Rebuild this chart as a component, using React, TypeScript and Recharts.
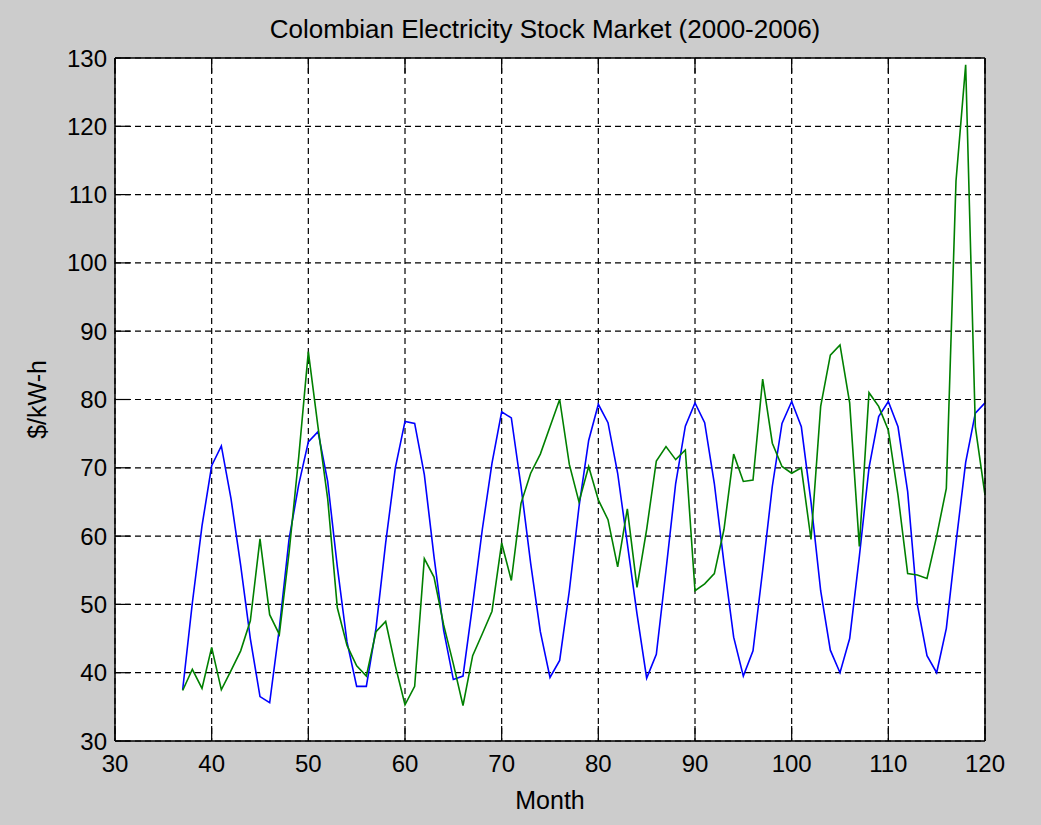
import { CartesianGrid, Line, LineChart, XAxis, YAxis } from "recharts";

const months = [
  37, 38, 39, 40, 41, 42, 43, 44, 45, 46,
  47, 48, 49, 50, 51, 52, 53, 54, 55, 56,
  57, 58, 59, 60, 61, 62, 63, 64, 65, 66,
  67, 68, 69, 70, 71, 72, 73, 74, 75, 76,
  77, 78, 79, 80, 81, 82, 83, 84, 85, 86,
  87, 88, 89, 90, 91, 92, 93, 94, 95, 96,
  97, 98, 99, 100, 101, 102, 103, 104, 105, 106,
  107, 108, 109, 110, 111, 112, 113, 114, 115, 116,
  117, 118, 119, 120,
];

// fitted curve (blue)
const fitted = [
  37.5, 50.2, 61.5, 70.3, 73.2, 65.5, 55.7, 45, 36.5, 35.6,
  46.5, 59.5, 67.5, 73.8, 75.3, 68, 55.5, 44.5, 38, 38,
  46.5, 59, 70, 76.8, 76.5, 69, 57, 46.2, 39, 39.5,
  50, 61, 70.7, 78.2, 77.3, 67.3, 56, 46, 39.3, 41.8,
  52, 64.3, 74, 79.3, 76.6, 69.2, 58.9, 48.6, 39.2, 42.7,
  55, 67.7, 76.1, 79.5, 76.6, 67.7, 56, 45.2, 39.5, 43.2,
  55, 67.3, 76.5, 79.7, 76, 65, 52, 43.3, 40, 45,
  57, 70, 77.5, 79.7, 76, 66.5, 50, 42.5, 40, 46.5,
  59, 70.8, 78, 79.5,
];

// observed price (green)
const observed = [
  37.4, 40.5, 37.7, 43.7, 37.5, 40.3, 43.2, 47.6, 59.6, 48.5,
  45.6, 57.5, 71.5, 87, 76, 65.5, 49.5, 44, 41, 39.5,
  46, 47.5, 41, 35.3, 38, 56.7, 54, 47, 41.3, 35.2,
  42.5, 45.7, 49, 59, 53.5, 64.8, 69.2, 72, 76, 80,
  70.5, 65, 70.2, 65.3, 62.4, 55.5, 64, 52.5, 61, 71,
  73.1, 71.2, 72.6, 52, 53, 54.5, 61, 72, 68, 68.2,
  83, 73.6, 70.2, 69.2, 70, 59.5, 79, 86.5, 88, 79.5,
  58.5, 81, 79, 75.5, 66, 54.5, 54.3, 53.8, 60, 67,
  112, 129, 76, 66,
];

const xTicks = [30, 40, 50, 60, 70, 80, 90, 100, 110, 120];
const yTicks = [30, 40, 50, 60, 70, 80, 90, 100, 110, 120, 130];

const data = months.map((m, i) => ({ month: m, fit: fitted[i], price: observed[i] }));

const FONT = "'Liberation Sans', Arial, sans-serif";
const TICK_LEN = 15;

const BottomTick = ({ x, y, payload }: any) => (
  <g>
    <line x1={x} x2={x} y1={y} y2={y - TICK_LEN} stroke="#000" strokeWidth={1.2} />
    <text x={x} y={y + 22} textAnchor="middle" dominantBaseline="central" fontSize={24} fontFamily={FONT} fill="#000">
      {payload.value}
    </text>
  </g>
);

const TopTick = ({ x, y }: any) => (
  <line x1={x} x2={x} y1={y} y2={y + TICK_LEN} stroke="#000" strokeWidth={1.2} />
);

const LeftTick = ({ x, y, payload }: any) => (
  <g>
    <line x1={x} x2={x + TICK_LEN} y1={y} y2={y} stroke="#000" strokeWidth={1.2} />
    <text x={x - 8} y={y} textAnchor="end" dominantBaseline="central" fontSize={24} fontFamily={FONT} fill="#000">
      {payload.value}
    </text>
  </g>
);

const RightTick = ({ x, y }: any) => (
  <line x1={x} x2={x - TICK_LEN} y1={y} y2={y} stroke="#000" strokeWidth={1.2} />
);

export default function App() {
  return (
    <div style={{ position: "absolute", left: 0, top: 0, width: 1041, height: 825, background: "#cccccc", fontFamily: FONT }}>
      <div style={{ position: "absolute", left: 115, top: 58, width: 870, height: 683, background: "#fff" }} />
      <div style={{ position: "absolute", left: 110, top: 14, width: 870, textAlign: "center", fontSize: 26, color: "#000" }}>
        Colombian Electricity Stock Market (2000-2006)
      </div>
      <div style={{ position: "absolute", left: 0, top: 0 }}>
        <LineChart width={1041} height={825} data={data} margin={{ top: 57, right: 55, bottom: 0, left: 0 }}>
          <CartesianGrid
            xAxisId="b"
            yAxisId="l"
            stroke="#000"
            strokeDasharray="6 4"
            strokeWidth={1.2}
            horizontalValues={yTicks}
            verticalValues={xTicks}
          />
          <XAxis
            xAxisId="b"
            dataKey="month"
            type="number"
            domain={[30, 120]}
            ticks={xTicks}
            height={84}
            tickSize={0}
            tickMargin={0}
            tickLine={false}
            tick={<BottomTick />}
            axisLine={{ stroke: "#000", strokeWidth: 1.5 }}
            interval={0}
            label={{ value: "Month", position: "insideBottom", offset: 16, fontSize: 25, fill: "#000", fontFamily: FONT }}
          />
          <XAxis
            xAxisId="t"
            orientation="top"
            dataKey="month"
            type="number"
            domain={[30, 120]}
            ticks={xTicks}
            height={1}
            tickSize={0}
            tickMargin={0}
            tickLine={false}
            tick={<TopTick />}
            axisLine={{ stroke: "#000", strokeWidth: 1.5 }}
            interval={0}
          />
          <YAxis
            yAxisId="l"
            type="number"
            domain={[30, 130]}
            ticks={yTicks}
            width={115}
            tickSize={0}
            tickMargin={0}
            tickLine={false}
            tick={<LeftTick />}
            axisLine={{ stroke: "#000", strokeWidth: 1.5 }}
            interval={0}
            label={{ value: "$/kW-h", angle: -90, position: "center", dx: -20, fontSize: 25, fill: "#000", fontFamily: FONT }}
          />
          <YAxis
            yAxisId="r"
            orientation="right"
            type="number"
            domain={[30, 130]}
            ticks={yTicks}
            width={1}
            tickSize={0}
            tickMargin={0}
            tickLine={false}
            tick={<RightTick />}
            axisLine={{ stroke: "#000", strokeWidth: 1.5 }}
            interval={0}
          />
          <Line xAxisId="b" yAxisId="l" type="linear" dataKey="fit" stroke="#0000ff" strokeWidth={1.6} dot={false} isAnimationActive={false} />
          <Line xAxisId="b" yAxisId="l" type="linear" dataKey="price" stroke="#008000" strokeWidth={1.6} dot={false} isAnimationActive={false} />
        </LineChart>
      </div>
    </div>
  );
}
